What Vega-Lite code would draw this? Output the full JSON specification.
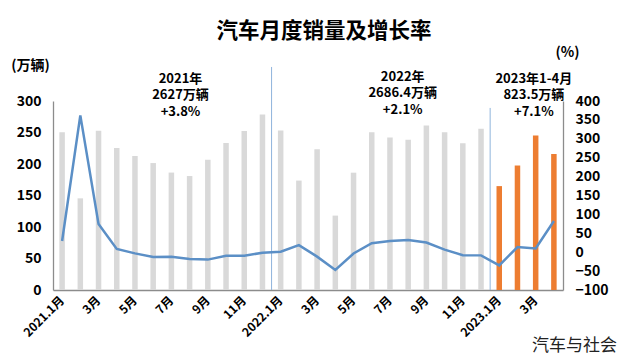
{
  "$schema": "https://vega.github.io/schema/vega-lite/v6.json",
  "autosize": "none",
  "width": 510,
  "height": 189,
  "padding": {"left": 53, "top": 101, "right": 66, "bottom": 70},
  "background": "white",
  "config": {
    "font": "Noto Sans CJK SC",
    "view": {"stroke": null},
    "axis": {"grid": false, "ticks": false, "labelFont": "Noto Sans CJK SC", "titleFont": "Noto Sans CJK SC", "labelColor": "#000000", "titleColor": "#000000", "domainColor": "#8c8c8c", "domainWidth": 1.3}
  },
  "title": {
    "text": "汽车月度销量及增长率",
    "fontSize": 21.5,
    "fontWeight": "bold",
    "font": "Noto Sans CJK SC",
    "color": "#000000",
    "anchor": "middle",
    "frame": "group",
    "dx": 16,
    "offset": 3
  },
  "datasets": {
    "monthly": [
      {"i": 0, "year": "2021", "sales": 250.3, "growth": 29.5},
      {"i": 1, "year": "2021", "sales": 145.5, "growth": 362.0},
      {"i": 2, "year": "2021", "sales": 252.6, "growth": 74.9},
      {"i": 3, "year": "2021", "sales": 225.2, "growth": 8.6},
      {"i": 4, "year": "2021", "sales": 212.8, "growth": -3.1},
      {"i": 5, "year": "2021", "sales": 201.5, "growth": -12.4},
      {"i": 6, "year": "2021", "sales": 186.4, "growth": -11.9},
      {"i": 7, "year": "2021", "sales": 180.9, "growth": -18.1},
      {"i": 8, "year": "2021", "sales": 206.7, "growth": -19.6},
      {"i": 9, "year": "2021", "sales": 233.2, "growth": -9.4},
      {"i": 10, "year": "2021", "sales": 252.2, "growth": -9.1},
      {"i": 11, "year": "2021", "sales": 278.6, "growth": -1.6},
      {"i": 12, "year": "2022", "sales": 253.1, "growth": 1.4},
      {"i": 13, "year": "2022", "sales": 173.7, "growth": 18.7},
      {"i": 14, "year": "2022", "sales": 223.4, "growth": -11.7},
      {"i": 15, "year": "2022", "sales": 118.1, "growth": -47.1},
      {"i": 16, "year": "2022", "sales": 186.2, "growth": -3.5},
      {"i": 17, "year": "2022", "sales": 250.2, "growth": 23.8},
      {"i": 18, "year": "2022", "sales": 242.0, "growth": 29.7},
      {"i": 19, "year": "2022", "sales": 238.3, "growth": 32.1},
      {"i": 20, "year": "2022", "sales": 261.0, "growth": 25.7},
      {"i": 21, "year": "2022", "sales": 250.5, "growth": 6.9},
      {"i": 22, "year": "2022", "sales": 232.9, "growth": -7.9},
      {"i": 23, "year": "2022", "sales": 256.1, "growth": -8.4},
      {"i": 24, "year": "2023", "sales": 164.9, "growth": -34.8},
      {"i": 25, "year": "2023", "sales": 197.6, "growth": 13.5},
      {"i": 26, "year": "2023", "sales": 245.1, "growth": 9.7},
      {"i": 27, "year": "2023", "sales": 215.9, "growth": 82.7}
    ],
    "dividers": [
      {"pos": 12, "top": 354},
      {"pos": 24, "top": 289}
    ],
    "notes": [
      {"pos": 7.0, "y": 345, "label": "2021年\n2627万辆\n+3.8%"},
      {"pos": 19.2, "y": 348, "label": "2022年\n2686.4万辆\n+2.1%"},
      {"pos": 26.4, "y": 345, "label": "2023年1-4月\n823.5万辆\n+7.1%"}
    ]
  },
  "layer": [
    {
      "data": {"name": "monthly"},
      "mark": {"type": "bar", "width": 5.5},
      "encoding": {
        "x": {
          "field": "i",
          "type": "ordinal",
          "scale": {"paddingInner": 0, "paddingOuter": 0},
          "axis": {
            "title": "汽车与社会",
            "titleFontSize": 17,
            "titleFontWeight": "normal",
            "titleColor": "#222222",
            "titleX": 521,
            "titleY": 55,
            "titleAlign": "center",
            "titleBaseline": "middle",
            "labelAngle": -45,
            "labelAlign": "right",
            "labelBaseline": "middle",
            "labelFontSize": 12,
            "labelFontWeight": "bold",
            "labelPadding": 8,
            "labelExpr": "datum.value == 0 ? '2021.1月' : datum.value == 12 ? '2022.1月' : datum.value == 24 ? '2023.1月' : (datum.value % 2 == 0 ? ((datum.value % 12) + 1) + '月' : '')"
          }
        },
        "y": {
          "field": "sales",
          "type": "quantitative",
          "scale": {"domain": [0, 300], "nice": false},
          "axis": {
            "values": [0, 50, 100, 150, 200, 250, 300],
            "title": "(万辆)",
            "titleAngle": 0,
            "titleFontSize": 14,
            "titleFontWeight": "bold",
            "titleX": -23,
            "titleY": -36,
            "titleAlign": "center",
            "titleBaseline": "middle",
            "labelFontSize": 14,
            "labelFontWeight": "bold",
            "labelPadding": 12
          }
        },
        "color": {
          "field": "year",
          "type": "nominal",
          "scale": {"domain": ["2021", "2022", "2023"], "range": ["#d9d9d9", "#d9d9d9", "#ed7d31"]},
          "legend": null
        }
      }
    },
    {
      "data": {"name": "dividers"},
      "mark": {"type": "rule", "color": "#8fb4dc", "strokeWidth": 1},
      "encoding": {
        "x": {"field": "pos", "type": "quantitative", "scale": {"domain": [0, 28], "nice": false, "zero": false}, "axis": null},
        "y": {"field": "top", "type": "quantitative", "scale": {"domain": [0, 300], "nice": false}, "axis": null},
        "y2": {"datum": 0}
      }
    },
    {
      "data": {"name": "monthly"},
      "mark": {"type": "line", "color": "#5b8fc6", "strokeWidth": 2.5},
      "encoding": {
        "x": {"field": "i", "type": "ordinal", "scale": {"paddingInner": 0, "paddingOuter": 0}, "axis": null},
        "y": {
          "field": "growth",
          "type": "quantitative",
          "scale": {"domain": [-100, 400], "nice": false, "zero": false},
          "axis": {
            "orient": "right",
            "values": [-100, -50, 0, 50, 100, 150, 200, 250, 300, 350, 400],
            "title": "(%)",
            "titleAngle": 0,
            "titleFontSize": 14,
            "titleFontWeight": "bold",
            "titleX": 4,
            "titleY": -49,
            "titleAlign": "center",
            "titleBaseline": "middle",
            "labelFontSize": 14,
            "labelFontWeight": "bold",
            "labelPadding": 12
          }
        }
      }
    },
    {
      "data": {"name": "notes"},
      "mark": {"type": "text", "fontSize": 13, "fontWeight": "bold", "color": "#000000", "lineBreak": "\n", "lineHeight": 16.5, "align": "center", "baseline": "top"},
      "encoding": {
        "x": {"field": "pos", "type": "quantitative", "scale": {"domain": [0, 28], "nice": false, "zero": false}, "axis": null},
        "y": {"field": "y", "type": "quantitative", "scale": {"domain": [0, 300], "nice": false}, "axis": null},
        "text": {"field": "label"}
      }
    }
  ],
  "resolve": {"scale": {"x": "independent", "y": "independent"}}
}
